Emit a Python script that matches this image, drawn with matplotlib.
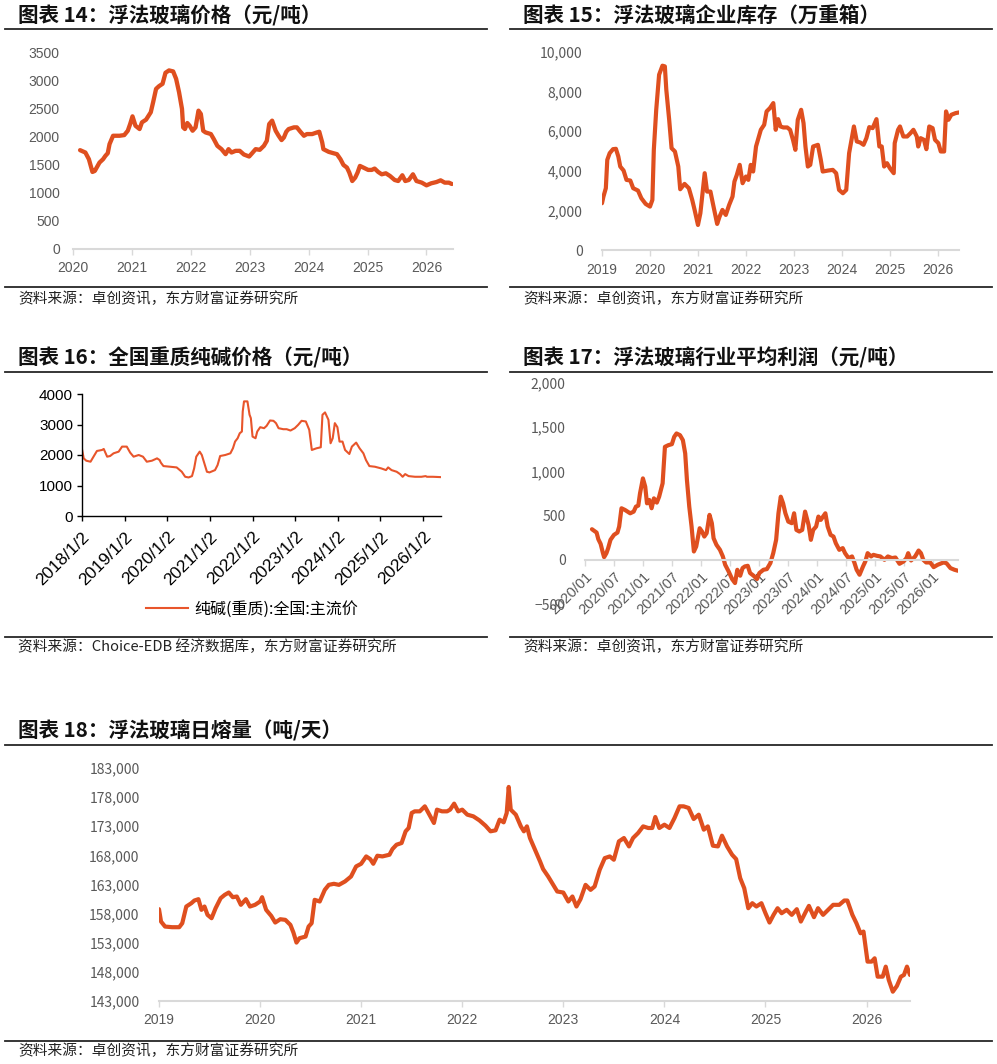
import numpy as np
import matplotlib.pyplot as plt
from matplotlib.lines import Line2D
from matplotlib.ticker import FuncFormatter

plt.rcParams['font.family'] = ['Noto Sans CJK SC', 'DejaVu Sans']

# ---------------- data (decimal year, value) ----------------
# 图表14 浮法玻璃价格
price_t = [2020.12, 2020.21, 2020.27, 2020.33, 2020.37, 2020.45, 2020.51, 2020.55, 2020.59, 2020.62,
           2020.68, 2020.79, 2020.87, 2020.93, 2020.97, 2021.01, 2021.06, 2021.13, 2021.17, 2021.24,
           2021.32, 2021.36, 2021.41, 2021.46, 2021.52, 2021.57, 2021.63, 2021.70, 2021.75, 2021.80,
           2021.85, 2021.87, 2021.90, 2021.94, 2021.98, 2022.03, 2022.08, 2022.13, 2022.17, 2022.21,
           2022.25, 2022.34, 2022.39, 2022.45, 2022.52, 2022.59, 2022.64, 2022.69, 2022.76, 2022.83,
           2022.90, 2022.99, 2023.04, 2023.10, 2023.17, 2023.24, 2023.29, 2023.33, 2023.38, 2023.44,
           2023.49, 2023.54, 2023.58, 2023.62, 2023.66, 2023.75, 2023.80, 2023.86, 2023.92, 2023.97,
           2024.06, 2024.14, 2024.18, 2024.23, 2024.25, 2024.34, 2024.42, 2024.48, 2024.54, 2024.59,
           2024.65, 2024.69, 2024.74, 2024.79, 2024.83, 2024.87, 2024.93, 2025.01, 2025.07, 2025.12,
           2025.18, 2025.24, 2025.31, 2025.38, 2025.46, 2025.52, 2025.59, 2025.64, 2025.70, 2025.77,
           2025.83, 2025.92, 2026.00, 2026.08, 2026.17, 2026.24, 2026.31, 2026.38, 2026.43]
price_v = [1756, 1714, 1595, 1369, 1387, 1536, 1595, 1655, 1702, 1863,
           2012, 2012, 2024, 2101, 2220, 2357, 2190, 2131, 2250, 2298,
           2429, 2607, 2845, 2893, 2935, 3131, 3173, 3155, 3024, 2786,
           2488, 2161, 2131, 2238, 2190, 2101, 2161, 2458, 2399, 2101,
           2071, 2042, 1952, 1833, 1774, 1685, 1774, 1714, 1744, 1744,
           1679, 1643, 1702, 1774, 1762, 1833, 1923, 2220, 2280, 2101,
           2012, 1935, 1982, 2083, 2131, 2161, 2161, 2083, 2012, 2042,
           2042, 2071, 2083, 1893, 1774, 1726, 1702, 1685, 1595, 1494,
           1446, 1357, 1208, 1268, 1357, 1476, 1446, 1405, 1405, 1429,
           1369, 1327, 1345, 1298, 1226, 1208, 1310, 1208, 1226, 1327,
           1208, 1179, 1131, 1167, 1190, 1220, 1179, 1179, 1155]

# 图表15 浮法玻璃企业库存
stock_t = [2019.00, 2019.03, 2019.08, 2019.11, 2019.16, 2019.23, 2019.29, 2019.34, 2019.38, 2019.45,
           2019.51, 2019.59, 2019.65, 2019.75, 2019.82, 2019.91, 2020.00, 2020.05, 2020.08, 2020.13,
           2020.19, 2020.26, 2020.31, 2020.34, 2020.40, 2020.45, 2020.52, 2020.59, 2020.63, 2020.72,
           2020.81, 2020.88, 2020.93, 2021.00, 2021.05, 2021.14, 2021.19, 2021.26, 2021.31, 2021.40,
           2021.45, 2021.51, 2021.58, 2021.65, 2021.72, 2021.76, 2021.81, 2021.87, 2021.93, 2022.00,
           2022.05, 2022.10, 2022.15, 2022.21, 2022.26, 2022.31, 2022.38, 2022.43, 2022.50, 2022.57,
           2022.62, 2022.67, 2022.72, 2022.78, 2022.86, 2022.92, 2022.98, 2023.03, 2023.08, 2023.15,
           2023.20, 2023.24, 2023.29, 2023.34, 2023.40, 2023.50, 2023.56, 2023.60, 2023.71, 2023.81,
           2023.88, 2023.94, 2024.02, 2024.09, 2024.15, 2024.20, 2024.25, 2024.31, 2024.38, 2024.45,
           2024.51, 2024.57, 2024.64, 2024.72, 2024.78, 2024.83, 2024.88, 2024.94, 2025.00, 2025.08,
           2025.10, 2025.17, 2025.21, 2025.28, 2025.36, 2025.43, 2025.49, 2025.56, 2025.59, 2025.64,
           2025.71, 2025.76, 2025.82, 2025.89, 2025.94, 2026.01, 2026.06, 2026.13, 2026.17, 2026.22,
           2026.28, 2026.37, 2026.44]
stock_v = [2361, 2698, 3120, 4553, 4890, 5093, 5110, 4722, 4216, 4013,
           3541, 3508, 3120, 3001, 2614, 2327, 2192, 2530, 5059, 7082,
           8853, 9308, 9274, 8094, 6576, 5143, 4975, 4216, 3069, 3339,
           3120, 2530, 2024, 1265, 1855, 3879, 2951, 2951, 2361, 1315,
           1686, 2024, 1771, 2277, 2698, 3457, 3794, 4300, 3373, 3710,
           3541, 4300, 3963, 5228, 5649, 6071, 6324, 6998, 7167, 7420,
           6071, 6610, 6239, 6189, 6189, 6071, 5565, 5059, 6576, 7082,
           6408, 5228, 4216, 4300, 5228, 5312, 4553, 3963, 4013, 4047,
           3879, 3035, 2867, 3035, 4890, 5565, 6239, 5481, 5430, 5312,
           5649, 6206, 6155, 6610, 5228, 5228, 4216, 4385, 4131, 3879,
           5396, 6071, 6239, 5733, 5733, 5902, 6071, 5733, 5228, 5649,
           5565, 5093, 6239, 6155, 5565, 5396, 4975, 4975, 6998, 6576,
           6829, 6914, 6948]

# 图表16 全国重质纯碱价格
soda_t = [2018.00, 2018.04, 2018.10, 2018.20, 2018.27, 2018.35, 2018.47, 2018.51, 2018.59, 2018.66,
          2018.74, 2018.86, 2018.94, 2019.05, 2019.13, 2019.21, 2019.33, 2019.43, 2019.52, 2019.64,
          2019.76, 2019.82, 2019.85, 2019.91, 2020.07, 2020.22, 2020.34, 2020.42, 2020.50, 2020.58,
          2020.63, 2020.68, 2020.76, 2020.81, 2020.87, 2020.93, 2020.99, 2021.12, 2021.18, 2021.24,
          2021.36, 2021.48, 2021.54, 2021.59, 2021.65, 2021.70, 2021.75, 2021.77, 2021.80, 2021.88,
          2021.93, 2021.96, 2022.00, 2022.07, 2022.11, 2022.18, 2022.27, 2022.33, 2022.41, 2022.49,
          2022.55, 2022.61, 2022.72, 2022.80, 2022.89, 2022.99, 2023.07, 2023.15, 2023.25, 2023.33,
          2023.39, 2023.50, 2023.60, 2023.64, 2023.70, 2023.78, 2023.83, 2023.88, 2023.93, 2023.99,
          2024.04, 2024.11, 2024.17, 2024.27, 2024.33, 2024.43, 2024.51, 2024.60, 2024.66, 2024.74,
          2024.87, 2025.02, 2025.13, 2025.18, 2025.26, 2025.38, 2025.46, 2025.52, 2025.58, 2025.66,
          2025.81, 2025.96, 2026.06, 2026.09, 2026.23, 2026.41]
soda_v = [2187, 1890, 1813, 1780, 1945, 2132, 2165, 2198, 1945, 1967,
          2055, 2110, 2275, 2275, 2077, 1945, 2000, 1945, 1780, 1813,
          1890, 1835, 1747, 1637, 1615, 1593, 1451, 1286, 1264, 1308,
          1560, 1945, 2110, 2000, 1725, 1451, 1429, 1505, 1670, 1967,
          2000, 2055, 2220, 2440, 2549, 2714, 2769, 3429, 3758, 3758,
          3319, 3209, 2604, 2549, 2769, 2912, 2879, 2956, 3132, 3121,
          3044, 2879, 2846, 2846, 2802, 2879, 2989, 3121, 3099, 2824,
          2165, 2220, 2253, 3319, 3396, 3154, 2385, 2549, 3044, 2912,
          2440, 2440, 2165, 2033, 2275, 2407, 2220, 2055, 1835, 1637,
          1615, 1560, 1505, 1593, 1505, 1451, 1374, 1286, 1374, 1308,
          1286, 1286, 1308, 1286, 1286, 1275]

# 图表17 浮法玻璃行业平均利润
profit_t = [2020.12, 2020.16, 2020.20, 2020.23, 2020.27, 2020.31, 2020.33, 2020.37, 2020.40, 2020.44,
            2020.50, 2020.56, 2020.59, 2020.63, 2020.69, 2020.78, 2020.84, 2020.88, 2020.92, 2020.95,
            2021.00, 2021.04, 2021.07, 2021.11, 2021.15, 2021.19, 2021.24, 2021.28, 2021.34, 2021.38,
            2021.44, 2021.50, 2021.54, 2021.58, 2021.64, 2021.69, 2021.73, 2021.76, 2021.80, 2021.84,
            2021.88, 2021.92, 2021.98, 2022.02, 2022.06, 2022.10, 2022.15, 2022.19, 2022.22, 2022.27,
            2022.33, 2022.38, 2022.42, 2022.48, 2022.54, 2022.59, 2022.63, 2022.68, 2022.72, 2022.76,
            2022.81, 2022.85, 2022.91, 2022.97, 2023.01, 2023.08, 2023.14, 2023.20, 2023.25, 2023.30,
            2023.34, 2023.38, 2023.42, 2023.46, 2023.51, 2023.57, 2023.61, 2023.65, 2023.70, 2023.75,
            2023.80, 2023.86, 2023.90, 2023.94, 2023.99, 2024.03, 2024.07, 2024.15, 2024.19, 2024.24,
            2024.29, 2024.33, 2024.39, 2024.45, 2024.49, 2024.55, 2024.61, 2024.65, 2024.69, 2024.74,
            2024.80, 2024.84, 2024.88, 2024.94, 2024.98, 2025.04, 2025.10, 2025.17, 2025.23, 2025.30,
            2025.36, 2025.43, 2025.50, 2025.55, 2025.58, 2025.63, 2025.70, 2025.76, 2025.80, 2025.84,
            2025.89, 2025.96, 2026.02, 2026.09, 2026.19, 2026.24, 2026.31, 2026.38, 2026.44]
profit_v = [346, 327, 308, 233, 180, 75, 30, 75, 132, 226,
            282, 308, 376, 583, 564, 526, 545, 602, 613, 752,
            921, 827, 639, 677, 583, 695, 647, 714, 865, 1278,
            1297, 1308, 1391, 1429, 1410, 1353, 1203, 902, 602, 376,
            94, 150, 357, 320, 263, 301, 508, 414, 244, 169,
            113, 38, -56, -132, -218, -263, -113, -180, -94, -75,
            -68, -150, -180, -218, -150, -113, -105, -38, 75, 226,
            526, 714, 639, 526, 432, 414, 526, 338, 320, 338,
            545, 395, 226, 338, 376, 489, 451, 526, 376, 282,
            263, 188, 113, 132, 75, 19, 38, -30, -113, -169,
            -75, -19, 75, 38, 56, 45, 38, 0, 38, 19,
            26, -45, -19, 19, 75, -8, 38, 105, 75, 0,
            -30, -30, -83, -56, -30, -38, -94, -113, -124]

# 图表18 浮法玻璃日熔量
melt_t = [2019.00, 2019.02, 2019.06, 2019.13, 2019.20, 2019.23, 2019.27, 2019.32, 2019.35, 2019.39,
          2019.42, 2019.45, 2019.48, 2019.52, 2019.56, 2019.61, 2019.65, 2019.69, 2019.73, 2019.77,
          2019.81, 2019.86, 2019.90, 2019.95, 2020.00, 2020.02, 2020.06, 2020.11, 2020.15, 2020.20,
          2020.25, 2020.30, 2020.33, 2020.36, 2020.39, 2020.45, 2020.48, 2020.51, 2020.54, 2020.59,
          2020.64, 2020.68, 2020.73, 2020.78, 2020.84, 2020.90, 2020.95, 2021.00, 2021.05, 2021.09,
          2021.12, 2021.16, 2021.21, 2021.28, 2021.31, 2021.35, 2021.40, 2021.44, 2021.47, 2021.50,
          2021.53, 2021.58, 2021.63, 2021.67, 2021.72, 2021.75, 2021.80, 2021.85, 2021.88, 2021.92,
          2021.96, 2022.00, 2022.05, 2022.11, 2022.17, 2022.23, 2022.28, 2022.33, 2022.37, 2022.41,
          2022.44, 2022.46, 2022.48, 2022.53, 2022.58, 2022.61, 2022.64, 2022.67, 2022.72, 2022.77,
          2022.80, 2022.85, 2022.89, 2022.94, 2023.00, 2023.05, 2023.09, 2023.13, 2023.17, 2023.22,
          2023.27, 2023.31, 2023.36, 2023.41, 2023.46, 2023.50, 2023.55, 2023.60, 2023.65, 2023.69,
          2023.74, 2023.79, 2023.84, 2023.88, 2023.91, 2023.95, 2024.00, 2024.05, 2024.10, 2024.15,
          2024.19, 2024.24, 2024.29, 2024.34, 2024.39, 2024.43, 2024.48, 2024.53, 2024.57, 2024.62,
          2024.67, 2024.71, 2024.75, 2024.79, 2024.83, 2024.87, 2024.91, 2024.96, 2025.00, 2025.04,
          2025.08, 2025.12, 2025.16, 2025.21, 2025.26, 2025.31, 2025.35, 2025.40, 2025.43, 2025.48,
          2025.52, 2025.57, 2025.62, 2025.67, 2025.73, 2025.78, 2025.81, 2025.86, 2025.90, 2025.94,
          2025.97, 2026.01, 2026.05, 2026.08, 2026.11, 2026.16, 2026.19, 2026.22, 2026.26, 2026.30,
          2026.34, 2026.37, 2026.40, 2026.43]
melt_v = [158760, 156640, 155780, 155670, 155670, 156350, 159220, 159790, 160250, 160480,
          158650, 159220, 157790, 157210, 158930, 160650, 161220, 161620, 160820, 160940,
          159510, 160480, 159220, 159510, 160080, 160820, 158650, 157620, 156470, 157040,
          156930, 156070, 154750, 153030, 153780, 154060, 155780, 156350, 160370, 160080,
          162080, 162940, 163120, 162940, 163520, 164380, 166100, 166560, 167820, 167360,
          166560, 167940, 167820, 168110, 169090, 169830, 170120, 172130, 172700, 175280,
          175560, 175560, 176420, 175160, 173560, 175850, 175560, 175560, 175850, 176880,
          175560, 175850, 174990, 174700, 174010, 173100, 172130, 172300, 174130, 173670,
          175280, 179750, 175850, 174990, 172980, 172130, 172980, 170980, 168970, 166960,
          165650, 164380, 163230, 161800, 161620, 160080, 160940, 159220, 160480, 162940,
          162080, 162660, 165530, 167530, 167820, 167250, 170400, 170980, 169540, 170980,
          171840, 172980, 172700, 172700, 174590, 172700, 173270, 172700, 174410, 176420,
          176420, 176140, 174240, 174990, 172410, 172980, 169660, 169540, 171380, 169540,
          168110, 167360, 164100, 162370, 158930, 159790, 159220, 159790, 158070, 156470,
          157790, 158930, 158070, 158650, 157790, 158760, 156640, 158360, 159330, 157390,
          158930, 157790, 158650, 159510, 159510, 160250, 160250, 157790, 156350, 154630,
          154920, 149760, 149760, 150330, 147180, 147180, 148900, 146610, 144600, 145570,
          147180, 147470, 148900, 147470]

# ---------------- layout helpers ----------------
W, H = 997, 1064
fig = plt.figure(figsize=(W / 100, H / 100), dpi=100, facecolor='white')

ORANGE = '#DF4F1F'
GRAY = '#595959'
LIGHT = '#d9d9d9'


def add_ax(l, t, r, b):
    return fig.add_axes([l / W, 1 - b / H, (r - l) / W, (b - t) / H])


def hline(x0, x1, y, lw=1.3, c='#262626'):
    fig.add_artist(Line2D([x0 / W, x1 / W], [1 - y / H, 1 - y / H], lw=lw, color=c,
                          transform=fig.transFigure))


def title(x, y, s):
    fig.text(x / W, 1 - y / H, s, fontsize=14.8, fontweight='bold', va='center', ha='left',
             color='#111111')


def source(x, y, s):
    fig.text(x / W, 1 - y / H, s, fontsize=10.6, va='center', ha='left', color='#222222')


def soft_axes(ax, ypad):
    for s in ['top', 'right', 'left']:
        ax.spines[s].set_visible(False)
    ax.spines['bottom'].set_color(LIGHT)
    ax.spines['bottom'].set_linewidth(1.5)
    ax.tick_params(axis='x', colors=LIGHT, length=4, width=1, labelcolor=GRAY,
                   labelsize=10, pad=5)
    ax.tick_params(axis='y', length=0, labelcolor=GRAY, labelsize=10, pad=ypad)


comma = FuncFormatter(lambda v, p: f'{v:,.0f}'.replace('-', '\u2212'))

# ---------------- 图表14 ----------------
title(18, 16, '图表 14：浮法玻璃价格（元/吨）')
hline(5, 487, 29)
ax1 = add_ax(73, 52, 453, 249)
ax1.plot(price_t, price_v, color=ORANGE, lw=3.1, solid_capstyle='round')
ax1.set_xlim(2020, 2026.45)
ax1.set_ylim(0, 3500)
soft_axes(ax1, 9.5)
ax1.set_xticks(range(2020, 2027))
ax1.set_xticklabels([str(y) for y in range(2020, 2027)], fontfamily='Liberation Sans')
ax1.set_yticks(range(0, 3501, 500))
ax1.set_yticklabels([str(v) for v in range(0, 3501, 500)], fontfamily='Liberation Sans')
hline(5, 487, 287)
source(18, 299, '资料来源：卓创资讯，东方财富证券研究所')

# ---------------- 图表15 ----------------
title(523, 16, '图表 15：浮法玻璃企业库存（万重箱）')
hline(510, 992, 29)
ax2 = add_ax(602, 52, 959, 250)
ax2.plot(stock_t, stock_v, color=ORANGE, lw=3.0, solid_capstyle='round')
ax2.set_xlim(2019, 2026.44)
ax2.set_ylim(0, 10000)
soft_axes(ax2, 14)
ax2.set_xticks(range(2019, 2027))
ax2.set_xticklabels([str(y) for y in range(2019, 2027)], fontfamily='Liberation Sans')
ax2.set_yticks(range(0, 10001, 2000))
ax2.yaxis.set_major_formatter(comma)
hline(510, 992, 287)
source(523, 299, '资料来源：卓创资讯，东方财富证券研究所')

# ---------------- 图表16 ----------------
title(18, 358, '图表 16：全国重质纯碱价格（元/吨）')
hline(5, 487, 372)
ax3 = add_ax(82, 394, 441, 516)
ax3.plot(soda_t, soda_v, color='#E8552B', lw=1.5, label='纯碱(重质):全国:主流价')
ax3.set_xlim(2018, 2026.42)
ax3.set_ylim(0, 4000)
for s in ['top', 'right']:
    ax3.spines[s].set_visible(False)
for s in ['left', 'bottom']:
    ax3.spines[s].set_linewidth(1.0)
    ax3.spines[s].set_color('#000000')
ax3.tick_params(axis='both', direction='out', length=3.5, width=1, labelsize=11, pad=3)
ax3.tick_params(axis='x', pad=6)
ax3.set_xticks(range(2018, 2027))
ax3.set_xticklabels([f'{y}/1/2' for y in range(2018, 2027)], rotation=45, ha='right',
                    va='top', rotation_mode='anchor', fontsize=12.5, fontfamily='Liberation Sans')
ax3.set_yticks(range(0, 4001, 1000))
ax3.set_yticklabels([str(v) for v in range(0, 4001, 1000)], fontfamily='Liberation Sans')
ax3.legend(loc='center', bbox_to_anchor=(252 / W, 1 - 609 / H), bbox_transform=fig.transFigure,
           frameon=False, fontsize=11.5, handlelength=2.6, handletextpad=0.4)
hline(5, 487, 637)
source(18, 647, '资料来源：Choice-EDB 经济数据库，东方财富证券研究所')

# ---------------- 图表17 ----------------
title(523, 358, '图表 17：浮法玻璃行业平均利润（元/吨）')
hline(510, 992, 372)
ax4 = add_ax(585, 383, 958, 604)
ax4.plot(profit_t, profit_v, color=ORANGE, lw=3.0, solid_capstyle='round')
ax4.set_xlim(2020, 2026.44)
ax4.set_ylim(-500, 2000)
soft_axes(ax4, 14)
ax4.spines['bottom'].set_position(('data', 0))
ax4.tick_params(axis='x', pad=3)
ax4.set_yticks(range(-500, 2001, 500))
ax4.yaxis.set_major_formatter(comma)
half_years = [y + h for y in range(2020, 2027) for h in (0, 0.5)][:13]
ax4.set_xticks(half_years)
ax4.set_xticklabels([f'{int(v)}/{"07" if v % 1 else "01"}' for v in half_years], rotation=45,
                    ha='right', va='top', rotation_mode='anchor', fontsize=10.5,
                    fontfamily='Liberation Sans')
hline(510, 992, 637)
source(523, 647, '资料来源：卓创资讯，东方财富证券研究所')

# ---------------- 图表18 ----------------
title(18, 731, '图表 18：浮法玻璃日熔量（吨/天）')
hline(5, 992, 745)
ax5 = add_ax(159, 768, 910, 1001)
ax5.plot(melt_t, melt_v, color=ORANGE, lw=3.0, solid_capstyle='round')
ax5.set_xlim(2019, 2026.43)
ax5.set_ylim(143000, 183000)
soft_axes(ax5, 14)
ax5.set_xticks(range(2019, 2027))
ax5.set_xticklabels([str(y) for y in range(2019, 2027)], fontfamily='Liberation Sans')
ax5.set_yticks(range(143000, 183001, 5000))
ax5.yaxis.set_major_formatter(comma)
hline(5, 992, 1041)
source(18, 1051, '资料来源：卓创资讯，东方财富证券研究所')

fig.savefig('out.png', dpi=100, facecolor='white')
